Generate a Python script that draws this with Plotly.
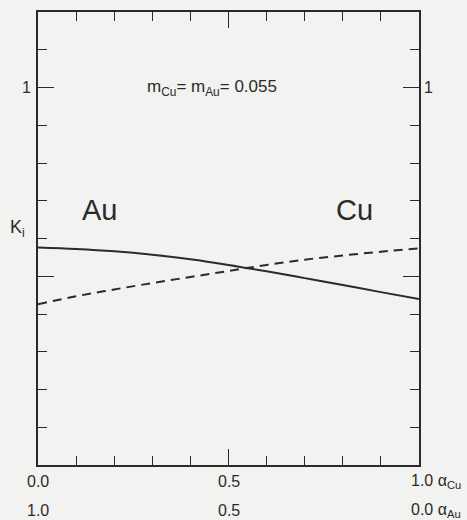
import plotly.graph_objects as go

alpha_cu = [0.0, 0.1, 0.2, 0.3, 0.4, 0.5, 0.6, 0.7, 0.8, 0.9, 1.0]
k_au = [0.576, 0.572, 0.566, 0.557, 0.545, 0.530, 0.513, 0.495, 0.477, 0.458, 0.440]
k_cu = [0.426, 0.447, 0.465, 0.482, 0.498, 0.514, 0.530, 0.544, 0.555, 0.565, 0.574]

x_labels_cu = ["0.0", "0.5", "1.0 α<sub>Cu</sub>"]
x_labels_au = ["1.0", "0.5", "0.0 α<sub>Au</sub>"]
x_label_pos = [0.0, 0.5, 1.0]

ink = "#2a2a2a"
bg = "#f2f2f0"
font = "Liberation Sans, Arial, sans-serif"

fig = go.Figure()
fig.add_trace(go.Scatter(x=alpha_cu, y=k_au, mode="lines", line=dict(color=ink, width=2, shape="spline"), showlegend=False))
fig.add_trace(go.Scatter(x=alpha_cu, y=k_cu, mode="lines", line=dict(color=ink, width=2, dash="9px,6px", shape="spline"), showlegend=False))

axis_common = dict(showgrid=False, zeroline=False, showline=True, linecolor=ink, linewidth=1.5,
                   mirror="ticks", ticks="inside", ticklen=16, tickwidth=1.2, tickcolor=ink,
                   dtick=0.5, tick0=0, showticklabels=False,
                   minor=dict(ticks="inside", dtick=0.1, ticklen=9, tickwidth=1.2, tickcolor=ink))
fig.update_xaxes(range=[0, 1.0], **axis_common)
fig.update_yaxes(range=[0, 1.2], **axis_common)

f = lambda s: dict(size=s, color=ink, family=font)
ann = []
for xv, t1, t2 in zip(x_label_pos, x_labels_cu, x_labels_au):
    anchor = "left" if xv == 1.0 else "center"
    shift = -10 if xv == 1.0 else 0
    ann.append(dict(x=xv, y=-0.037, xref="x", yref="paper", text=t1, showarrow=False, xanchor=anchor, yanchor="middle", xshift=shift, font=f(16)))
    ann.append(dict(x=xv, y=-0.101, xref="x", yref="paper", text=t2, showarrow=False, xanchor=anchor, yanchor="middle", xshift=shift, font=f(16)))
ann.append(dict(x=0, y=1.0, xref="x", yref="y", text="1", showarrow=False, xanchor="center", xshift=-12, font=f(16)))
ann.append(dict(x=1.0, y=1.0, xref="x", yref="y", text="1", showarrow=False, xanchor="center", xshift=9, font=f(16)))
ann.append(dict(x=0, y=0.626, xref="x", yref="y", text="K<sub>i</sub>", showarrow=False, xanchor="center", xshift=-21, font=f(18)))
ann.append(dict(x=0.161, y=0.676, xref="x", yref="y", text="Au", showarrow=False, font=f(29)))
ann.append(dict(x=0.831, y=0.676, xref="x", yref="y", text="Cu", showarrow=False, font=f(29)))
ann.append(dict(x=0.457, y=1.0, xref="x", yref="y", text="m<sub>Cu</sub>= m<sub>Au</sub>= 0.055", showarrow=False, font=f(17)))

fig.update_layout(width=467, height=520, margin=dict(l=38, r=48, t=10, b=55),
                  paper_bgcolor=bg, plot_bgcolor=bg, annotations=ann, showlegend=False)
fig.write_html("out.html")
